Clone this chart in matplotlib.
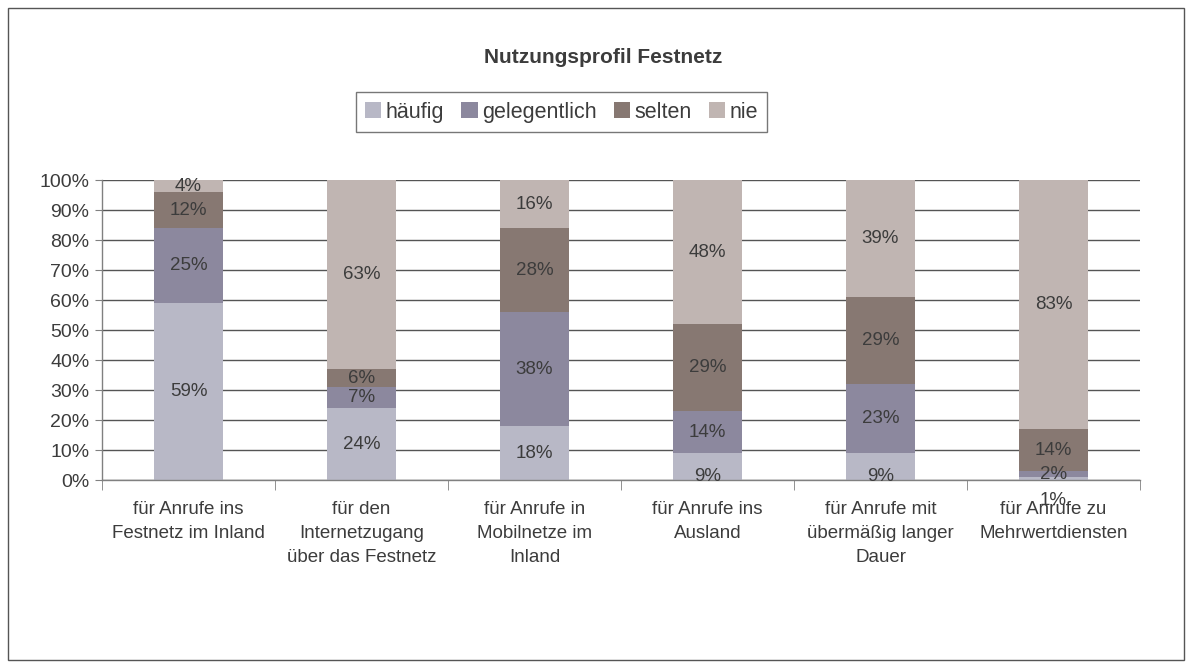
import matplotlib.pyplot as plt
import numpy as np
from matplotlib.patches import Rectangle

plt.rcParams['font.family'] = ['Liberation Sans', 'DejaVu Sans']

categories = [
    "für Anrufe ins\nFestnetz im Inland",
    "für den\nInternetzugang\nüber das Festnetz",
    "für Anrufe in\nMobilnetze im\nInland",
    "für Anrufe ins\nAusland",
    "für Anrufe mit\nübermäßig langer\nDauer",
    "für Anrufe zu\nMehrwertdiensten",
]
series_names = ["häufig", "gelegentlich", "selten", "nie"]
haeufig = [59, 24, 18, 9, 9, 1]
gelegentlich = [25, 7, 38, 14, 23, 2]
selten = [12, 6, 28, 29, 29, 14]
nie = [4, 63, 16, 48, 39, 83]

colors = ["#B8B8C6", "#8C889E", "#877872", "#C0B5B2"]
text_col = "#3c3c3c"

# label nudges (points, vertical) for small segments, like the original
label_nudge = {(3, 0): -7, (4, 0): -7, (5, 0): -16}

fig = plt.figure(figsize=(11.92, 6.68), dpi=100)
ax = fig.add_axes([0.0856, 0.2814, 0.8708, 0.449])

x = np.arange(len(categories))
bottom = np.zeros(len(categories))
for s, (name, vals) in enumerate(zip(series_names, [haeufig, gelegentlich, selten, nie])):
    vals = np.array(vals, dtype=float)
    ax.bar(x, vals, 0.4, bottom=bottom, color=colors[s], label=name, zorder=2)
    for i, v in enumerate(vals):
        ax.annotate(f"{int(v)}%", (x[i], bottom[i] + v / 2),
                    xytext=(0, label_nudge.get((i, s), 0)), textcoords="offset points",
                    ha="center", va="center", fontsize=13.5, color=text_col, zorder=3)
    bottom += vals

ax.set_xlim(-0.5, len(categories) - 0.5)
ax.set_ylim(0, 100)
ax.set_yticks(np.arange(0, 101, 10))
ax.set_yticklabels([f"{t}%" for t in range(0, 101, 10)], fontsize=14, color=text_col)
ax.set_xticks(x)
ax.set_xticklabels(categories, fontsize=13.5, color=text_col, linespacing=1.55, va="top")
ax.set_xticks(np.arange(-0.5, len(categories), 1), minor=True)
ax.tick_params(axis="x", which="major", length=0, pad=15)
ax.tick_params(axis="x", which="minor", length=7, color="#808080", direction="out")
ax.tick_params(axis="y", length=5, color="#808080", direction="out", pad=4)

ax.grid(axis="y", color="#555555", linewidth=1.0, zorder=0)
ax.set_axisbelow(True)
for sp in ["top", "right"]:
    ax.spines[sp].set_visible(False)
for sp in ["left", "bottom"]:
    ax.spines[sp].set_color("#808080")
    ax.spines[sp].set_linewidth(1.0)

fig.text(0.506, 0.914, "Nutzungsprofil Festnetz", ha="center", va="center",
         fontsize=15, fontweight="bold", color=text_col)

leg = fig.legend(loc="center", bbox_to_anchor=(0.471, 0.832), ncol=4, fontsize=15.5,
                 frameon=True, fancybox=False, handlelength=0.75, handleheight=0.75,
                 handletextpad=0.2, columnspacing=0.8, borderpad=0.45)
leg.get_frame().set_edgecolor("#555555")
leg.get_frame().set_linewidth(1.0)
for t in leg.get_texts():
    t.set_color(text_col)

fig.patches.append(Rectangle((0.0067, 0.012), 0.9866, 0.976, transform=fig.transFigure,
                             fill=False, edgecolor="#555555", linewidth=1.0))

fig.savefig("out.png", dpi=100)
